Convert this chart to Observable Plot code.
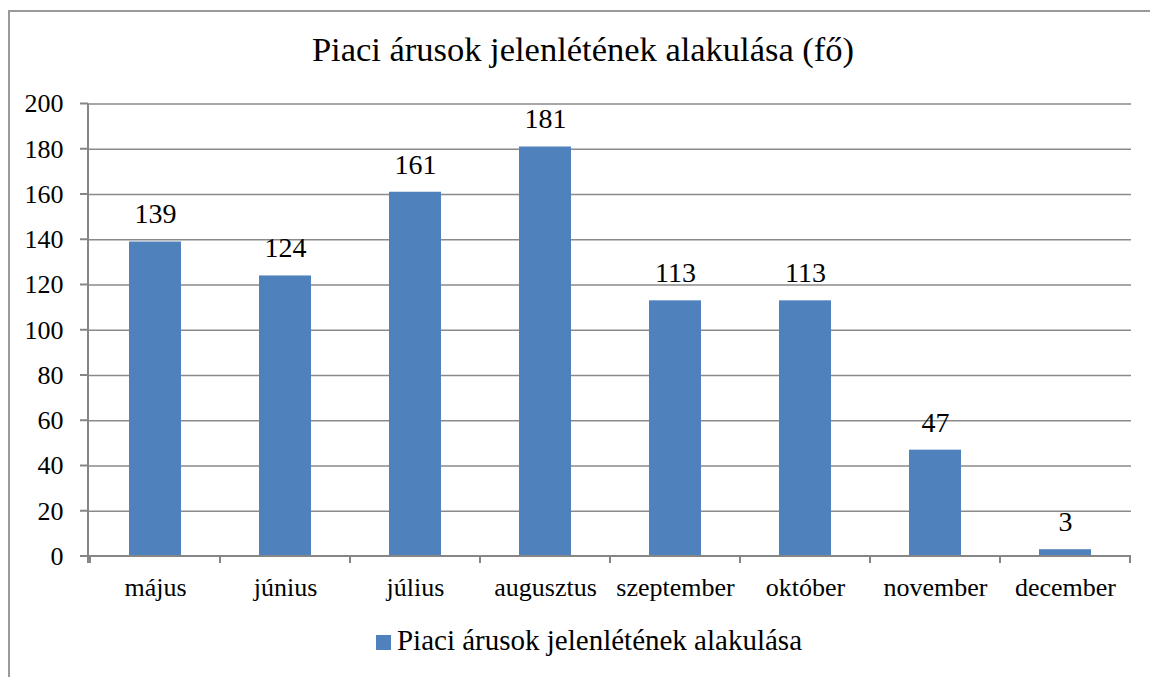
<!DOCTYPE html>
<html>
<head>
<meta charset="utf-8">
<script src="https://cdn.jsdelivr.net/npm/d3@7"></script>
<script src="https://cdn.jsdelivr.net/npm/@observablehq/plot@0.6"></script>
<style>
  html, body { margin: 0; padding: 0; background: #fff; }
  body { width: 1150px; height: 677px; position: relative; overflow: hidden;
         font-family: "Liberation Serif", "Times New Roman", serif; color: #000; }
  #frame { position: absolute; left: 8px; top: 10px; width: 1200px; height: 720px;
           border-left: 2px solid #9a9a9a; border-top: 2px solid #9a9a9a; box-sizing: border-box; }
  #title { position: absolute; left: 8px; width: 1150px; top: 32px; text-align: center;
           font-size: 34.5px; line-height: 1; white-space: nowrap; }
  #chart { position: absolute; left: 0; top: 80px; }
  #legend { position: absolute; left: 0; width: 1178px; top: 626px; text-align: center;
            font-size: 29px; line-height: 1; white-space: nowrap; }
  #legend .sw { display: inline-block; width: 15px; height: 15px; background: #4F81BD; margin-right: 6px; }
</style>
</head>
<body>
<div id="frame"></div>
<div id="title"></div>
<div id="chart"></div>
<div id="legend"></div>
<script>
const titleText = "Piaci árusok jelenlétének alakulása (fő)";
const seriesName = "Piaci árusok jelenlétének alakulása";
const months = ["május", "június", "július", "augusztus", "szeptember", "október", "november", "december"];
const values = [139, 124, 161, 181, 113, 113, 47, 3];
const yTicks = [0, 20, 40, 60, 80, 100, 120, 140, 160, 180, 200];
const barColor = "#4F81BD";
const serif = "Liberation Serif";

const data = months.map((m, i) => ({month: m, value: values[i]}));

document.getElementById("title").textContent = titleText;
const leg = document.getElementById("legend");
const sw = document.createElement("span"); sw.className = "sw";
leg.appendChild(sw);
leg.appendChild(document.createTextNode(seriesName));

const axisColor = "#868686";

function axesMark(index, scales, values, dim) {
  const g = d3.create("svg:g");
  const x = scales.x, y = scales.y;
  const step = x(months[1]) - x(months[0]);
  const bw = x.bandwidth ? x.bandwidth() : step * 0.4;
  const left = dim.marginLeft, right = dim.width - dim.marginRight;
  const y0 = y(0), yTop = y(200);
  g.append("line").attr("x1", left).attr("x2", left).attr("y1", yTop).attr("y2", y0 + 7)
    .attr("stroke", axisColor).attr("stroke-width", 2);
  for (const t of yTicks) {
    g.append("line").attr("x1", left - 8).attr("x2", left).attr("y1", y(t)).attr("y2", y(t))
      .attr("stroke", axisColor).attr("stroke-width", 2);
  }
  g.append("line").attr("x1", left).attr("x2", right).attr("y1", y0).attr("y2", y0)
    .attr("stroke", axisColor).attr("stroke-width", 2);
  const bounds = months.map(m => x(m) - (step - bw) / 2);
  bounds.push(x(months[months.length - 1]) + bw + (step - bw) / 2);
  for (const b of bounds) {
    g.append("line").attr("x1", b).attr("x2", b).attr("y1", y0).attr("y2", y0 + 7)
      .attr("stroke", axisColor).attr("stroke-width", 2);
  }
  return g.node();
}

const plot = Plot.plot({
  width: 1150,
  height: 540,
  marginLeft: 88,
  marginRight: 19,
  marginTop: 23.5,
  marginBottom: 64,
  style: {color: "#000", background: "transparent", overflow: "visible"},
  x: {domain: months, paddingInner: 0.6, paddingOuter: 0.3, label: null},
  y: {domain: [0, 200], label: null},
  marks: [
    Plot.ruleY(yTicks.filter(t => t > 0), {stroke: "#8a8a8a", strokeWidth: 1.6}),
    Plot.barY(data, {x: "month", y: "value", fill: barColor}),
    axesMark,
    Plot.axisY(yTicks, {tickSize: 0, tickPadding: 25, fontSize: 26, fontFamily: serif, label: null, fill: "#000"}),
    Plot.axisX({tickSize: 0, tickPadding: 21.5, fontSize: 26, fontFamily: serif, label: null, fill: "#000"}),
    Plot.text(data, {x: "month", y: "value", text: d => String(d.value), dy: -27.5, fontSize: 28, fontFamily: serif, fill: "#000"})
  ]
});
plot.setAttribute("font-family", serif);
plot.style.fontFamily = serif;
d3.select(plot).selectAll("g, text").attr("font-family", serif).style("font-family", serif);
document.getElementById("chart").appendChild(plot);
</script>
</body>
</html>
